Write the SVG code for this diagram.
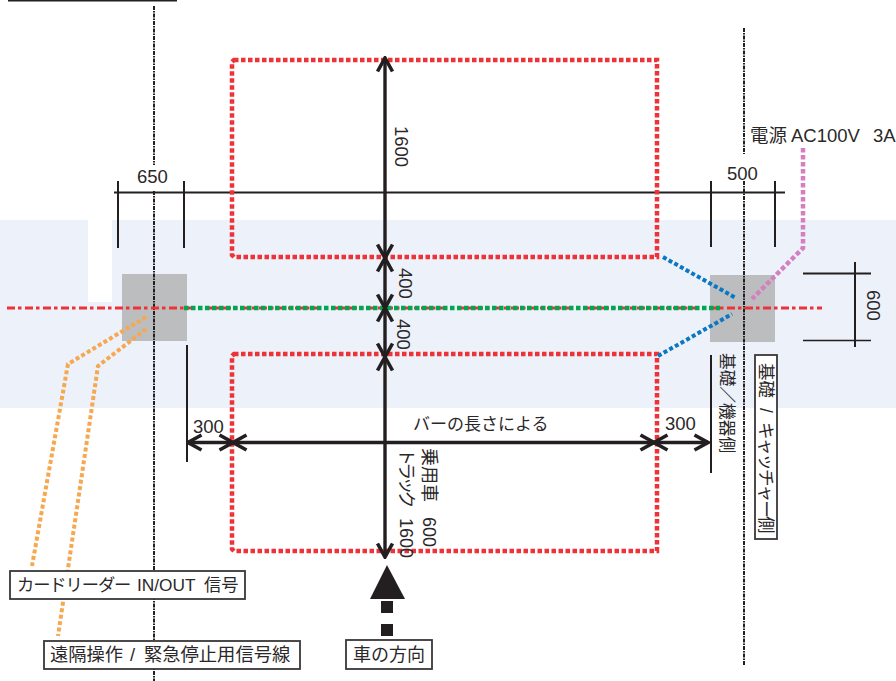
<svg xmlns="http://www.w3.org/2000/svg" width="896" height="681" viewBox="0 0 896 681">
<defs>
<marker id="open" viewBox="-17 -11 19 22" refX="0" refY="0" markerWidth="19" markerHeight="22" markerUnits="userSpaceOnUse" orient="auto-start-reverse">
<path d="M-13.500-7.500L0 0L-13.500 7.500" fill="none" stroke="#231f20" stroke-width="3.600"/>
</marker>
</defs>
<style>
text{font-family:"Liberation Sans","Noto Sans CJK JP",sans-serif;fill:#2b2829}
.n{font-size:18.500px}
.s17{font-size:17px}
.s173{font-size:17.300px}
.s175{font-size:17.500px}
.s18{font-size:18px}
.s185{font-size:18.300px}
.s167{font-size:16.700px}
.dim{stroke:#231f20;stroke-width:2;fill:none}
.thin{stroke:#231f20;stroke-width:1.500;fill:none}
.arr{stroke:#231f20;stroke-width:3.400;fill:none;marker-start:url(#open);marker-end:url(#open)}
.cl{stroke:#231f20;stroke-width:2;stroke-dasharray:4 1 1.500 1;fill:none}
.red{stroke:#ee3338;stroke-width:4.500;stroke-dasharray:4.500 2.500;fill:none}
.rc{stroke:#ee3338;stroke-width:3;stroke-dasharray:8 3 3.500 3.500;fill:none}
.grn{stroke:#00a651;stroke-width:4.500;stroke-dasharray:4.500 2.500;fill:none}
.blu{stroke:#0877c4;stroke-width:4;stroke-dasharray:4 2.500;fill:none}
.pnk{stroke:#d47fc0;stroke-width:4.500;stroke-dasharray:4.500 2.500;fill:none}
.org{stroke:#f5a850;stroke-width:4;stroke-dasharray:4 2.500;fill:none}
.box{fill:#fff;stroke:#3a3738;stroke-width:1.800}
</style>
<g id="site">
<rect x="0" y="220" width="896" height="188" fill="#edf1f9"/>
<rect x="88" y="220" width="24" height="82" fill="#fff"/>
</g>
<g id="foundation-left"><rect x="122" y="274" width="65" height="67" fill="#bcbdbf"/></g>
<g id="foundation-right"><rect x="710" y="275" width="65" height="67" fill="#bcbdbf"/></g>
<g id="connectors">
<path class="dim" d="M8 0.500H177"/>
<path class="cl" d="M154 6V165M154 191V681M744 28V154M744 181V665"/>
<path class="rc" d="M7 308H822"/>
<path class="dim" d="M114 192.500H785M118 181V248M184 181V248M711 181V247M775 181V247"/>
<path class="dim" d="M855 262V347M803 273.500H871"/>
<path class="thin" d="M803 340.500H871"/>
<path class="dim" d="M187 345V462M711 355V473"/>
<path class="red" d="M234 60H657V257H234L232 255V62Z"/>
<path class="red" d="M234 354H657V551H234L232 549V356Z"/>
<path class="grn" d="M184 308H720"/>
<path class="blu" d="M663 257L736 298M658 356L732 314"/>
<path class="pnk" d="M803 148V248L752 299"/>
<path class="org" d="M146 317L68 364L32 566"/>
<path class="org" d="M146 329L98 366L58 636"/>
<path class="arr" d="M385 58V258"/>
<path class="arr" d="M385 258V308"/>
<path class="arr" d="M385 308V357"/>
<path class="arr" d="M385 357V557"/>
<path class="arr" d="M188 442.500H233"/>
<path class="arr" d="M233 442.500H654"/>
<path class="arr" d="M654 442.500H708"/>
</g>
<g id="direction-arrow">
<path d="M387 565L405 599H370Z" fill="#231f20"/>
<rect x="381" y="601" width="12" height="12" fill="#231f20"/>
<rect x="381" y="624" width="12" height="12" fill="#231f20"/>
</g>
<g id="dim-labels">
<text class="n" x="137" y="183">650</text>
<text class="n" x="727" y="180">500</text>
<text class="n" x="193" y="433">300</text>
<text class="n" x="665" y="430">300</text>
<text class="n" x="750" y="142">電源<tspan x="791">AC100V</tspan><tspan x="873">3A</tspan></text>
<text class="s17" x="413" y="430">バーの長さによる</text>
<text class="n" transform="translate(395 126) rotate(90)">1600</text>
<text class="n" transform="translate(399 268) rotate(90)">400</text>
<text class="n" transform="translate(397 319) rotate(90)">400</text>
<text class="n" transform="translate(867 290) rotate(90)">600</text>
<text class="s18" transform="translate(423 448) rotate(90)">乗用車<tspan x="69">600</tspan></text>
<text class="s18" transform="translate(400 448) rotate(90)"><tspan style="letter-spacing:-3.800px">トラック</tspan><tspan x="70">1600</tspan></text>
<text class="s167" transform="translate(721 353) rotate(90)">基礎／機器側</text>
</g>
<g id="label-card">
<rect class="box" x="10" y="571" width="235" height="28"/>
<text class="s173" x="17" y="591"><tspan style="letter-spacing:-1.100px">カードリーダー</tspan><tspan x="137">IN/OUT</tspan><tspan x="204">信号</tspan></text>
</g>
<g id="label-remote">
<rect class="box" x="44" y="641" width="256" height="28"/>
<text class="s185" x="50" y="661">遠隔操作<tspan x="130">/</tspan><tspan x="144">緊急停止用信号線</tspan></text>
</g>
<g id="label-direction">
<rect class="box" x="346" y="640" width="86" height="29"/>
<text class="s18" x="353" y="661">車の方向</text>
</g>
<g id="label-catcher">
<rect class="box" x="755" y="355" width="22" height="184"/>
<text class="s175" transform="translate(760 363) rotate(90)">基礎<tspan x="45">/</tspan><tspan x="59" style="letter-spacing:-1.800px">キャッチャー側</tspan></text>
</g>
</svg>
